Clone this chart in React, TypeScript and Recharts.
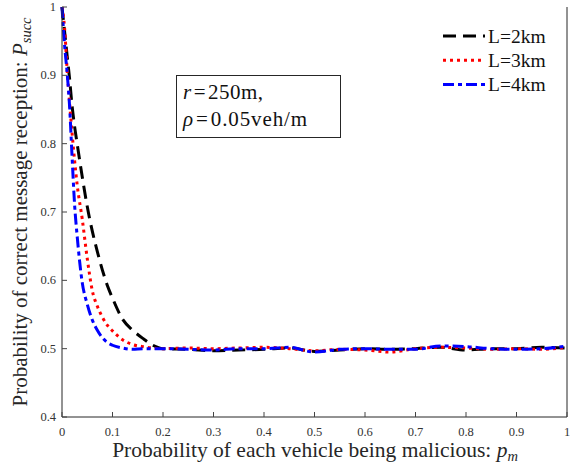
import { Customized, Line, LineChart, XAxis, YAxis } from 'recharts';

const pm = [0, 0.005, 0.01, 0.015, 0.02, 0.025, 0.03, 0.04, 0.05, 0.06, 0.07, 0.08, 0.09, 0.1, 0.12, 0.14, 0.16, 0.18, 0.2,
  0.25, 0.3, 0.35, 0.4, 0.45, 0.5, 0.55, 0.6, 0.65, 0.7, 0.75, 0.8, 0.85, 0.9, 0.95, 1];
const succ2km = [1.0, 0.965, 0.93, 0.895, 0.855, 0.825, 0.8, 0.752, 0.708, 0.672, 0.642, 0.615, 0.592, 0.574, 0.543, 0.527, 0.515, 0.505, 0.5,
  0.499, 0.497, 0.498, 0.499, 0.501, 0.496, 0.498, 0.5, 0.499, 0.5, 0.502, 0.498, 0.5, 0.5, 0.502, 0.501];
const succ3km = [1.0, 0.97, 0.91, 0.86, 0.815, 0.775, 0.74, 0.69, 0.632, 0.585, 0.562, 0.546, 0.534, 0.526, 0.513, 0.506, 0.503, 0.501, 0.5,
  0.501, 0.5, 0.501, 0.502, 0.5, 0.497, 0.499, 0.498, 0.495, 0.5, 0.502, 0.501, 0.499, 0.5, 0.499, 0.502];
const succ4km = [1.0, 0.945, 0.905, 0.855, 0.78, 0.71, 0.665, 0.597, 0.565, 0.542, 0.527, 0.516, 0.509, 0.505, 0.501, 0.499, 0.5, 0.5, 0.5,
  0.499, 0.498, 0.5, 0.5, 0.502, 0.495, 0.499, 0.5, 0.499, 0.499, 0.504, 0.503, 0.5, 0.499, 0.5, 0.504];

const xTicks = [0, 0.1, 0.2, 0.3, 0.4, 0.5, 0.6, 0.7, 0.8, 0.9, 1];
const xTickLabels = ['0', '0.1', '0.2', '0.3', '0.4', '0.5', '0.6', '0.7', '0.8', '0.9', '1'];
const yTicks = [0.4, 0.5, 0.6, 0.7, 0.8, 0.9, 1];
const yTickLabels = ['0.4', '0.5', '0.6', '0.7', '0.8', '0.9', '1'];

const seriesNames = ['L=2km', 'L=3km', 'L=4km'];

const data = pm.map((x, i) => ({ x, l2: succ2km[i], l3: succ3km[i], l4: succ4km[i] }));

const FONT = '"Liberation Serif", "Times New Roman", serif';
const INK = '#262626';
const TICK = '#444';

const styles = [
  { key: 'l2', color: '#000000', dash: '13 7' },
  { key: 'l3', color: '#ff0000', dash: '3 4' },
  { key: 'l4', color: '#0000ff', dash: '11 4 4 4' },
];

function label(ticks: number[], labels: string[], v: number) {
  const i = ticks.findIndex((t) => Math.abs(t - v) < 1e-9);
  return i >= 0 ? labels[i] : String(v);
}

const BottomTick = (p: any) => (
  <g>
    <line x1={p.x} y1={p.y} x2={p.x} y2={p.y - 5} stroke={TICK} />
    <text x={p.x} y={p.y + 19} textAnchor="middle" fontSize={12.5} fill="#333" fontFamily={FONT}>
      {label(xTicks, xTickLabels, p.payload.value)}
    </text>
  </g>
);
const TopTick = (p: any) => <line x1={p.x} y1={p.y} x2={p.x} y2={p.y + 5} stroke={TICK} />;
const LeftTick = (p: any) => (
  <g>
    <line x1={p.x} y1={p.y} x2={p.x + 5} y2={p.y} stroke={TICK} />
    <text x={p.x - 6} y={p.y + 4} textAnchor="end" fontSize={12.5} fill="#333" fontFamily={FONT}>
      {label(yTicks, yTickLabels, p.payload.value)}
    </text>
  </g>
);
const RightTick = (p: any) => <line x1={p.x} y1={p.y} x2={p.x - 5} y2={p.y} stroke={TICK} />;

function Extras() {
  return (
    <g fontFamily={FONT}>
      <text x={315} y={457} textAnchor="middle" fontSize={21.5} fill={INK}>
        Probability of each vehicle being malicious: <tspan fontStyle="italic">p</tspan>
        <tspan fontStyle="italic" fontSize={14.5} dy={4}>m</tspan>
      </text>
      <text x={27} y={212} textAnchor="middle" fontSize={21} fill={INK} transform="rotate(-90 27 212)">
        Probability of correct message reception: <tspan fontStyle="italic">P</tspan>
        <tspan fontStyle="italic" fontSize={14.5} dy={4}>succ</tspan>
      </text>
      <rect x={176.5} y={75.5} width={164} height={62} fill="#fff" stroke={INK} />
      <text x={183} y={99} fontSize={21} fill="#111" letterSpacing={0.5}>
        <tspan fontStyle="italic">r</tspan>
        <tspan dx={2}>=</tspan>
        <tspan dx={2}>250m,</tspan>
      </text>
      <text x={183} y={126} fontSize={21} fill="#111" letterSpacing={0.9}>
        <tspan fontStyle="italic">ρ</tspan>
        <tspan dx={2}>=</tspan>
        <tspan dx={2}>0.05veh/m</tspan>
      </text>
      {styles.map((s, i) => (
        <g key={s.key}>
          <line x1={443} y1={36 + i * 24.3} x2={485} y2={36 + i * 24.3} stroke={s.color} strokeWidth={3} strokeDasharray={s.dash} />
          <text x={488} y={42.5 + i * 24.3} fontSize={19.5} fill="#111">
            {seriesNames[i]}
          </text>
        </g>
      ))}
    </g>
  );
}

export default function App() {
  return (
    <div style={{ position: 'absolute', left: 0, top: 0, width: 584, height: 466, background: '#fff' }}>
      <LineChart width={584} height={466} data={data} margin={{ top: 7, right: 0, bottom: 0, left: 0 }}>
        <XAxis
          xAxisId="b"
          dataKey="x"
          type="number"
          domain={[0, 1]}
          ticks={xTicks}
          height={49}
          tickSize={0}
          tickMargin={0}
          tickLine={false}
          axisLine={{ stroke: INK }}
          tick={BottomTick}
          interval={0}
        />
        <XAxis
          xAxisId="t"
          orientation="top"
          dataKey="x"
          type="number"
          domain={[0, 1]}
          ticks={xTicks}
          height={0}
          tickSize={0}
          tickMargin={0}
          tickLine={false}
          axisLine={{ stroke: '#777' }}
          tick={TopTick}
          interval={0}
        />
        <YAxis
          yAxisId="l"
          type="number"
          domain={[0.4, 1]}
          ticks={yTicks}
          width={62}
          tickSize={0}
          tickMargin={0}
          tickLine={false}
          axisLine={{ stroke: INK }}
          tick={LeftTick}
          interval={0}
        />
        <YAxis
          yAxisId="r"
          orientation="right"
          type="number"
          domain={[0.4, 1]}
          ticks={yTicks}
          width={17}
          tickSize={0}
          tickMargin={0}
          tickLine={false}
          axisLine={{ stroke: INK }}
          tick={RightTick}
          interval={0}
        />
        {styles.map((s, i) => (
          <Line
            key={s.key}
            xAxisId="b"
            yAxisId="l"
            type="monotone"
            dataKey={s.key}
            name={seriesNames[i]}
            stroke={s.color}
            strokeWidth={3}
            strokeDasharray={s.dash}
            dot={false}
            isAnimationActive={false}
          />
        ))}
        <Customized component={<Extras />} />
      </LineChart>
    </div>
  );
}
